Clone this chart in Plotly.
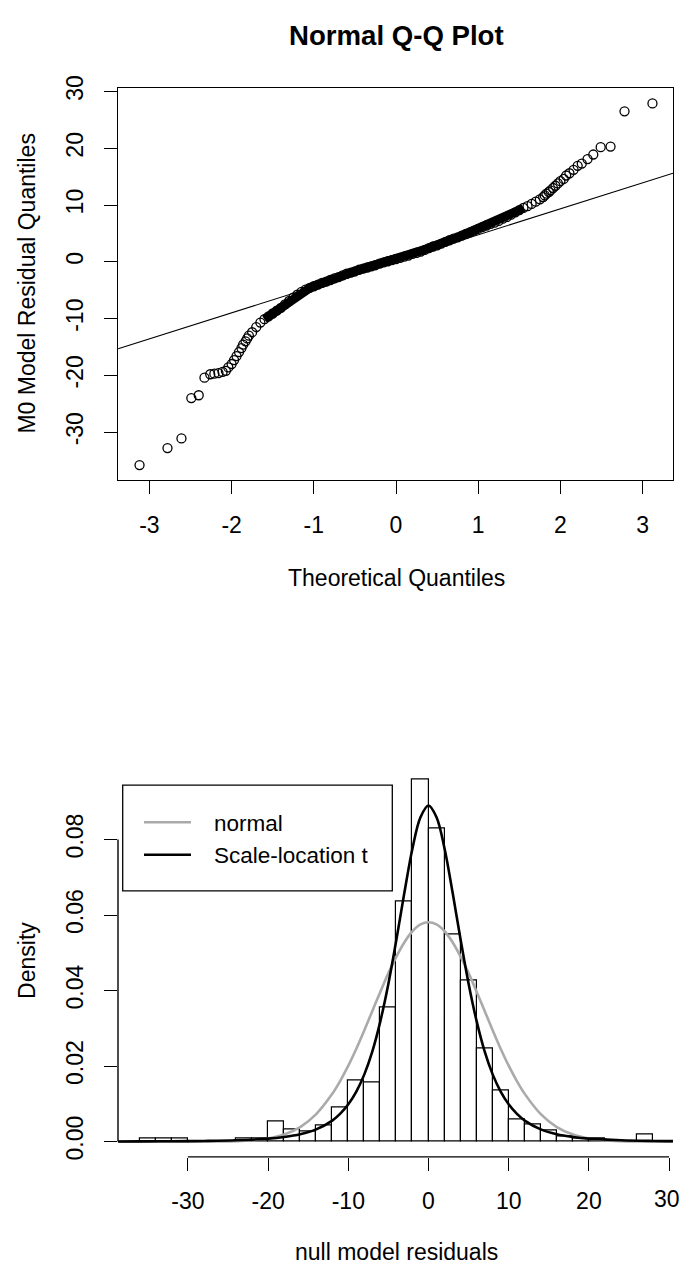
import plotly.graph_objects as go

W, H = 681, 1271
FONT = "Liberation Sans, Arial, sans-serif"
FS = 23

# ---------------- Normal Q-Q plot data (theoretical quantile, residual) ----------------
qq_low_x = [-3.12, -2.78, -2.61, -2.49, -2.40, -2.33, -2.26, -2.21, -2.16, -2.11, -2.07,
            -2.04, -2.00, -1.97, -1.94, -1.91, -1.88, -1.86, -1.83, -1.81, -1.79]
qq_low_y = [-35.8, -32.8, -31.1, -24.0, -23.5, -20.4, -19.8, -19.7, -19.6, -19.4, -19.2,
            -18.6, -18.0, -17.3, -16.6, -15.9, -15.2, -14.6, -14.0, -13.5, -13.0]

qq_mid_x = [-1.75, -1.70, -1.65, -1.60, -1.55, -1.50, -1.45, -1.40, -1.35, -1.30, -1.25,
            -1.20, -1.15, -1.10, -1.05, -1.00, -0.95, -0.90, -0.85, -0.80, -0.75, -0.70,
            -0.65, -0.60, -0.55, -0.50, -0.45, -0.40, -0.35, -0.30, -0.25, -0.20, -0.15,
            -0.10, -0.05, 0.00, 0.05, 0.10, 0.15, 0.20, 0.25, 0.30, 0.35, 0.40, 0.45,
            0.50, 0.55, 0.60, 0.65, 0.70, 0.75, 0.80, 0.85, 0.90, 0.95, 1.00, 1.05,
            1.10, 1.15, 1.20, 1.25, 1.30, 1.35, 1.40, 1.45, 1.50, 1.55, 1.60, 1.65,
            1.70, 1.75]
qq_mid_y = [-12.4, -11.5, -10.7, -10.1, -9.6, -9.1, -8.6, -8.1, -7.5, -6.9, -6.3,
            -5.8, -5.3, -4.9, -4.6, -4.3, -4.0, -3.7, -3.5, -3.2, -2.9, -2.7,
            -2.4, -2.1, -1.9, -1.7, -1.4, -1.2, -1.0, -0.8, -0.6, -0.3, -0.1,
            0.1, 0.3, 0.5, 0.7, 0.9, 1.1, 1.4, 1.6, 1.8, 2.1, 2.4, 2.7,
            2.9, 3.2, 3.5, 3.8, 4.1, 4.3, 4.6, 4.9, 5.2, 5.5, 5.8, 6.1,
            6.4, 6.7, 6.9, 7.2, 7.6, 7.9, 8.3, 8.7, 9.1, 9.5, 9.8, 10.2,
            10.6, 11.0]

qq_high_x = [1.79, 1.81, 1.83, 1.86, 1.88, 1.91, 1.94, 1.97, 2.00, 2.04, 2.07,
             2.11, 2.16, 2.21, 2.26, 2.33, 2.40, 2.49, 2.61, 2.78, 3.12]
qq_high_y = [11.4, 11.7, 12.0, 12.3, 12.6, 13.0, 13.4, 13.8, 14.2, 14.6, 15.2,
             15.6, 16.2, 16.9, 17.3, 18.1, 18.9, 20.2, 20.3, 26.5, 27.9]

# reference line through the quartiles (two points on it)
qqline_x = [-3.38, 3.37]
qqline_y = [-15.3, 15.6]

qq_xticks = [-3, -2, -1, 0, 1, 2, 3]
qq_yticks = [-30, -20, -10, 0, 10, 20, 30]

# ---------------- Histogram of residuals (density scale, bin width 2) ----------------
hist_left_edges = [-36, -34, -32, -30, -28, -26, -24, -22, -20, -18, -16, -14, -12, -10,
                   -8, -6, -4, -2, 0, 2, 4, 6, 8, 10, 12, 14, 16, 18, 20, 22, 24, 26]
hist_density = [0.0009, 0.0009, 0.0009, 0.0, 0.0, 0.0, 0.0009, 0.0009, 0.0053, 0.0033,
                0.0026, 0.0044, 0.0090, 0.0163, 0.0156, 0.0355, 0.0635, 0.0960, 0.0830,
                0.0548, 0.0428, 0.0246, 0.0135, 0.0059, 0.0045, 0.0030, 0.0015, 0.0009,
                0.0009, 0.0, 0.0, 0.0018]
bin_width = 2

# fitted densities drawn over the histogram
normal_x = [-38.7, -30, -26, -24, -22, -20, -18, -16, -14, -12, -11, -10, -9, -8, -7, -6,
            -5, -4, -3, -2, -1, 0, 1, 2, 3, 4, 5, 6, 7, 8, 9, 10, 11, 12, 14, 16, 18,
            20, 22, 24, 26, 30.5]
normal_y = [0.0, 0.0, 0.00004, 0.00013, 0.00035, 0.00084, 0.00188, 0.00386, 0.00729,
            0.01264, 0.0161, 0.0201, 0.0246, 0.0295, 0.0346, 0.0397, 0.0446, 0.0490,
            0.0528, 0.0557, 0.0575, 0.0581, 0.0575, 0.0557, 0.0528, 0.0490, 0.0446,
            0.0397, 0.0346, 0.0295, 0.0246, 0.0201, 0.0161, 0.01264, 0.00729, 0.00386,
            0.00188, 0.00084, 0.00035, 0.00013, 0.00004, 0.0]

tfit_x = [-38.7, -36, -32, -28, -24, -20, -18, -16, -14, -12, -11, -10, -9, -8, -7, -6,
          -5, -4, -3, -2, -1, 0, 1, 2, 3, 4, 5, 6, 7, 8, 9, 10, 11, 12, 14, 16, 18, 20,
          24, 28, 30.5]
tfit_y = [0.00004, 0.000054, 0.000095, 0.000174, 0.00035, 0.00078, 0.00122, 0.00195,
          0.00324, 0.00556, 0.00739, 0.00987, 0.01324, 0.0178, 0.0239, 0.0319, 0.0418,
          0.0535, 0.0660, 0.0776, 0.0859, 0.0890, 0.0859, 0.0776, 0.0660, 0.0535,
          0.0418, 0.0319, 0.0239, 0.0178, 0.01324, 0.00987, 0.00739, 0.00556, 0.00324,
          0.00195, 0.00122, 0.00078, 0.00035, 0.000174, 0.00013]

hist_xticks = [-30, -20, -10, 0, 10, 20, 30]
hist_yticks = [0.00, 0.02, 0.04, 0.06, 0.08]
legend_labels = ["normal", "Scale-location t"]
legend_colors = ["#aaaaaa", "black"]


def tick_text(vals, fmt="{:g}"):
    # plain ASCII hyphen for negative numbers
    return [fmt.format(v) for v in vals]


# ---------------- layout helpers (pixel -> paper) ----------------
def fx(px):
    return px / W


def fy(py):
    return 1 - py / H


# plot regions in pixels
TOP_L, TOP_R, TOP_T, TOP_B = 118, 673, 76, 473
BOT_L, BOT_R, BOT_T, BOT_B = 118, 673, 761, 1158.5

fig = go.Figure()

# ---- Q-Q plot ----
band_x = [x for x in qq_mid_x if -1.6 <= x <= 1.55]
band_y = [y for x, y in zip(qq_mid_x, qq_mid_y) if -1.6 <= x <= 1.55]
fig.add_trace(go.Scatter(x=band_x, y=band_y, mode="lines", xaxis="x", yaxis="y",
                         line=dict(color="black", width=9), hoverinfo="skip"))
qx = qq_low_x + qq_mid_x + qq_high_x
qy = qq_low_y + qq_mid_y + qq_high_y
fig.add_trace(go.Scatter(x=qx, y=qy, mode="markers", xaxis="x", yaxis="y",
                         marker=dict(symbol="circle-open", size=9, color="black",
                                     line=dict(width=1.3, color="black"))))
fig.add_trace(go.Scatter(x=qqline_x, y=qqline_y, mode="lines", xaxis="x", yaxis="y",
                         line=dict(color="black", width=1.1)))

# ---- histogram with fitted densities ----
centers = [e + bin_width / 2 for e in hist_left_edges]
fig.add_trace(go.Bar(x=centers, y=hist_density, width=bin_width, xaxis="x2", yaxis="y2",
                     marker=dict(color="white", line=dict(color="black", width=1.2))))
fig.add_trace(go.Scatter(x=normal_x, y=normal_y, mode="lines", xaxis="x2", yaxis="y2",
                         line=dict(color=legend_colors[0], width=2.6, shape="spline")))
fig.add_trace(go.Scatter(x=tfit_x, y=tfit_y, mode="lines", xaxis="x2", yaxis="y2",
                         line=dict(color=legend_colors[1], width=2.6, shape="spline")))

# axis ranges from pixel geometry
qx0_px, qx_unit = 396.0, 82.2
qy0_px, qy_unit = 252.0, 5.75
hx0_px, hx_unit = 428.5, 8.02
hy0_px, hy_unit = 1143.0, 3825.0

tick_font = dict(family=FONT, size=FS, color="black")
common = dict(showgrid=False, zeroline=False, ticks="outside", ticklen=13, tickwidth=1.4,
              tickcolor="black", tickfont=tick_font)

# the last histogram tick label sits on the page edge; it is placed right-aligned there
hist_xtext = tick_text(hist_xticks)
edge_label = hist_xtext[-1]
hist_xtext[-1] = ""

fig.update_layout(
    width=W, height=H, margin=dict(l=0, r=0, t=0, b=0),
    paper_bgcolor="white", plot_bgcolor="white", showlegend=False,
    font=dict(family=FONT, color="black"),
    xaxis=dict(domain=[fx(TOP_L), fx(TOP_R)], anchor="y",
               range=[(TOP_L - qx0_px) / qx_unit, (TOP_R - qx0_px) / qx_unit],
               tickvals=qq_xticks, ticktext=tick_text(qq_xticks), showline=True,
               mirror=True, linecolor="black", linewidth=1.4, ticklabelstandoff=11,
               **common),
    yaxis=dict(domain=[fy(TOP_B), fy(TOP_T)], anchor="x",
               range=[(qy0_px - TOP_B) / qy_unit, (qy0_px - TOP_T) / qy_unit],
               tickvals=qq_yticks, ticktext=tick_text(qq_yticks), tickangle=-90,
               showline=True, mirror=True, linecolor="black", linewidth=1.4,
               ticklabelstandoff=12, **common),
    xaxis2=dict(domain=[fx(BOT_L), fx(BOT_R)], anchor="y2",
                range=[(BOT_L - hx0_px) / hx_unit, (BOT_R - hx0_px) / hx_unit],
                tickvals=hist_xticks, ticktext=hist_xtext, showline=False,
                ticklabelstandoff=10, **common),
    yaxis2=dict(domain=[fy(BOT_B), fy(BOT_T)], anchor="x2",
                range=[(hy0_px - BOT_B) / hy_unit, (hy0_px - BOT_T) / hy_unit],
                tickvals=hist_yticks, ticktext=tick_text(hist_yticks, "{:.2f}"),
                tickangle=-90, showline=False, ticklabelstandoff=12, **common),
    bargap=0,
)

shapes = []
# partial axis lines of the histogram (span first to last tick)
shapes.append(dict(type="line", xref="x2", yref="paper", x0=hist_xticks[0], x1=hist_xticks[-1],
                   y0=fy(BOT_B), y1=fy(BOT_B), line=dict(color="black", width=1.4)))
shapes.append(dict(type="line", xref="paper", yref="y2", x0=fx(BOT_L), x1=fx(BOT_L),
                   y0=hist_yticks[0], y1=hist_yticks[-1], line=dict(color="black", width=1.4)))
# legend box
LG_L, LG_R, LG_T, LG_B = 122.7, 392.3, 782, 889
shapes.append(dict(type="rect", xref="paper", yref="paper", x0=fx(LG_L), x1=fx(LG_R),
                   y0=fy(LG_B), y1=fy(LG_T), line=dict(color="black", width=1.3)))
legend_rows = [819.5, 852.5]
annotations = []
for lab, col, ry in zip(legend_labels, legend_colors, legend_rows):
    shapes.append(dict(type="line", xref="paper", yref="paper", x0=fx(144), x1=fx(191),
                       y0=fy(ry), y1=fy(ry), line=dict(color=col, width=2.6)))
    annotations.append(dict(text=lab, xref="paper", yref="paper", x=fx(212), y=fy(ry + 1),
                            xanchor="left", yanchor="middle", showarrow=False,
                            font=dict(family=FONT, size=22.5, color="black")))

annotations.append(dict(text=edge_label, xref="paper", yref="paper", x=1.0, y=fy(1201),
                        xanchor="right", yanchor="middle", showarrow=False, borderpad=0,
                        font=dict(family=FONT, size=FS, color="black")))

# titles
annotations += [
    dict(text="<b>Normal Q-Q Plot</b>", x=fx(396), y=fy(22.5), xref="paper", yref="paper",
         showarrow=False, xanchor="center", yanchor="middle",
         font=dict(family=FONT, size=27.6, color="black")),
    dict(text="Theoretical Quantiles", x=fx(396), y=fy(572), xref="paper", yref="paper",
         showarrow=False, xanchor="center", yanchor="middle",
         font=dict(family=FONT, size=FS, color="black")),
    dict(text="M0 Model Residual Quantiles", x=fx(27), y=fy(274), xref="paper",
         yref="paper", showarrow=False, textangle=-90, xanchor="center",
         yanchor="middle", font=dict(family=FONT, size=FS, color="black")),
    dict(text="Density", x=fx(27), y=fy(960), xref="paper", yref="paper",
         showarrow=False, textangle=-90, xanchor="center", yanchor="middle",
         font=dict(family=FONT, size=FS, color="black")),
    dict(text="null model residuals", x=fx(396), y=fy(1255), xref="paper", yref="paper",
         showarrow=False, xanchor="center", yanchor="middle", borderpad=0,
         font=dict(family=FONT, size=FS, color="black")),
]

fig.update_layout(shapes=shapes, annotations=annotations)
fig.write_html("out.html")
